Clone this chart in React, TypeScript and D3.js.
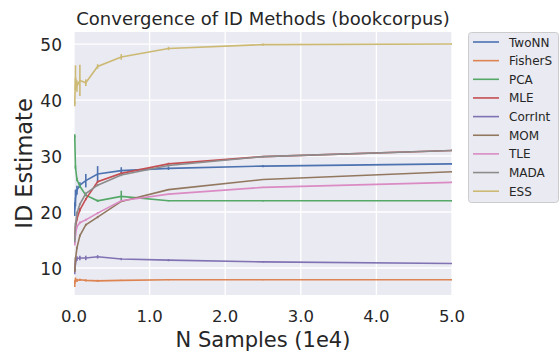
import React from "react";
import * as d3 from "d3";

const xs = [0.0098, 0.0195, 0.039, 0.078, 0.156, 0.3125, 0.625, 1.25, 2.5, 5.0];
const methods = ["TwoNN", "FisherS", "PCA", "MLE", "CorrInt", "MOM", "TLE", "MADA", "ESS"];
const colors = ["#4c72b0", "#dd8452", "#55a868", "#c44e52", "#8172b3", "#937860", "#da8bc3", "#8c8c8c", "#ccb974"];

const twoNN = [20.5, 22.5, 23.9, 24.8, 25.6, 26.8, 27.4, 27.8, 28.2, 28.6];
const twoNNErr = [1.2, 1.5, 0.8, 0.5, 1.2, 1.4, 0.6, 0.3, 0.2, 0.1];
const fisherS = [7.2, 7.9, 7.8, 7.9, 7.8, 7.7, 7.8, 7.9, 7.9, 7.9];
const fisherSErr = [0.6, 0.4, 0.3, 0.2, 0.2, 0.2, 0.1, 0.1, 0.1, 0.1];
const pca = [33.6, 28.0, 25.8, 24.6, 23.0, 22.0, 22.8, 22.0, 22.0, 22.0];
const pcaErr = [0.3, 0.3, 0.3, 0.3, 0.2, 0.2, 1.0, 0.1, 0.1, 0.1];
const mle = [15.8, 17.2, 18.8, 20.4, 22.3, 25.4, 26.9, 28.6, 29.9, 31.0];
const mleErr = [0.4, 0.3, 0.3, 0.3, 0.2, 0.2, 0.2, 0.2, 0.1, 0.1];
const corrInt = [9.3, 11.0, 11.7, 11.8, 11.8, 12.0, 11.6, 11.4, 11.1, 10.8];
const corrIntErr = [0.4, 0.4, 0.4, 0.4, 0.4, 0.3, 0.2, 0.2, 0.1, 0.1];
const mom = [9.6, 11.6, 13.6, 15.8, 17.7, 19.1, 21.9, 24.0, 25.8, 27.2];
const momErr = [0.3, 0.3, 0.2, 0.2, 0.2, 0.2, 0.1, 0.1, 0.1, 0.1];
const tle = [14.3, 16.0, 17.4, 18.1, 18.6, 19.8, 22.0, 23.2, 24.4, 25.3];
const tleErr = [0.3, 0.3, 0.2, 0.2, 0.2, 0.2, 0.1, 0.1, 0.1, 0.1];
const mada = [15.0, 17.8, 19.8, 21.4, 23.3, 24.8, 26.6, 28.3, 29.9, 31.0];
const madaErr = [0.4, 0.3, 0.3, 0.2, 0.2, 0.2, 0.2, 0.2, 0.1, 0.1];
const ess = [39.3, 44.0, 42.5, 43.5, 43.1, 46.0, 47.7, 49.2, 49.9, 50.0];
const essErr = [0.4, 2.2, 1.0, 2.8, 0.6, 0.4, 0.5, 0.3, 0.2, 0.1];

const seriesValues = [twoNN, fisherS, pca, mle, corrInt, mom, tle, mada, ess];
const seriesErrors = [twoNNErr, fisherSErr, pcaErr, mleErr, corrIntErr, momErr, tleErr, madaErr, essErr];

const xTicks = [0, 1, 2, 3, 4, 5];
const yTicks = [10, 20, 30, 40, 50];

const W = 559, H = 352;
const left = 74, right = 452, top = 32, bottom = 295;
const FONT = "DejaVu Sans, sans-serif";
const TEXT = "#262626";

export default function App() {
  const x = d3.scaleLinear().domain([0, 5]).range([left, right]);
  const y = d3.scaleLinear().domain([5.18, 52.15]).range([bottom, top]);
  const line = d3.line<number>().x((_, i) => x(xs[i])).y((v) => y(v));

  return (
    <svg width={W} height={H} style={{ position: "absolute", left: 0, top: 0, background: "#fff" }}>
      <defs>
        <clipPath id="plot">
          <rect x={left} y={top} width={right - left} height={bottom - top} />
        </clipPath>
      </defs>
      <rect x={left} y={top} width={right - left} height={bottom - top} fill="#eaeaf2" />
      {xTicks.map((t) => (
        <line key={"gx" + t} x1={x(t)} x2={x(t)} y1={top} y2={bottom} stroke="#fff" strokeWidth={1.3} />
      ))}
      {yTicks.map((t) => (
        <line key={"gy" + t} x1={left} x2={right} y1={y(t)} y2={y(t)} stroke="#fff" strokeWidth={1.3} />
      ))}
      <g clipPath="url(#plot)">
        {seriesValues.map((vals, si) => (
          <g key={methods[si]}>
            <path d={line(vals) || ""} fill="none" stroke={colors[si]} strokeWidth={1.6} />
            {vals.map((v, i) => {
              const e = seriesErrors[si][i];
              return (
                <line
                  key={i}
                  x1={x(xs[i])}
                  x2={x(xs[i])}
                  y1={y(v - e)}
                  y2={y(v + e)}
                  stroke={colors[si]}
                  strokeWidth={1.6}
                />
              );
            })}
          </g>
        ))}
      </g>
      {xTicks.map((t) => (
        <text key={"tx" + t} x={x(t)} y={321.5} textAnchor="middle" fontFamily={FONT} fontSize={16.5} fill={TEXT}>
          {t.toFixed(1)}
        </text>
      ))}
      {yTicks.map((t) => (
        <text key={"ty" + t} x={62} y={y(t) + 7} textAnchor="end" fontFamily={FONT} fontSize={17} fill={TEXT}>
          {t}
        </text>
      ))}
      <text x={(left + right) / 2} y={346.5} textAnchor="middle" fontFamily={FONT} fontSize={21} fill={TEXT}>
        N Samples (1e4)
      </text>
      <text
        transform={`translate(32, ${(top + bottom) / 2}) rotate(-90)`}
        textAnchor="middle"
        fontFamily={FONT}
        fontSize={22.5}
        fill={TEXT}
      >
        ID Estimate
      </text>
      <text x={(left + right) / 2} y={25} textAnchor="middle" fontFamily={FONT} fontSize={18} fill={TEXT}>
        Convergence of ID Methods (bookcorpus)
      </text>
      <rect x={468.5} y={32.5} width={90} height={170} rx={3} fill="#eaeaf2" stroke="#cccccc" strokeWidth={1} />
      {methods.map((m, i) => {
        const ly = 42 + i * 18.65;
        return (
          <g key={"lg" + m}>
            <line x1={473} x2={499} y1={ly} y2={ly} stroke={colors[i]} strokeWidth={1.6} />
            <text x={509} y={ly + 4.5} fontFamily={FONT} fontSize={12} fill={TEXT}>
              {m}
            </text>
          </g>
        );
      })}
    </svg>
  );
}
